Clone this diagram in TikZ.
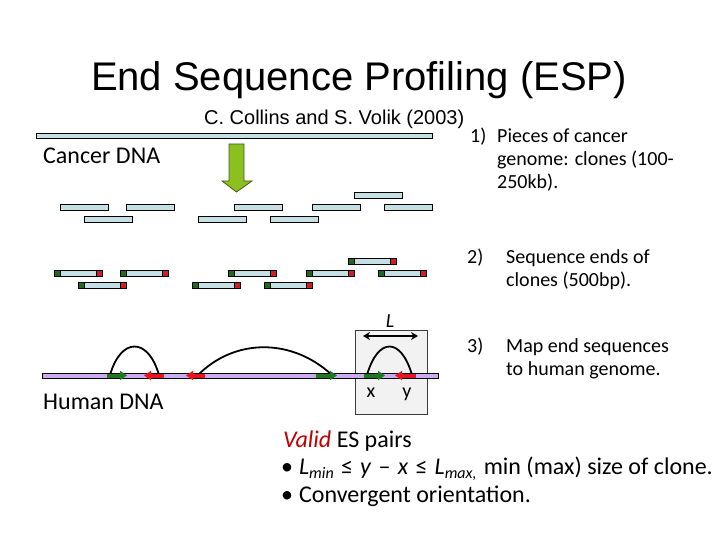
\documentclass[tikz,border=0pt]{standalone}
\usepackage{fontspec}
\setmainfont{Carlito}
\newfontfamily\arialf{Liberation Sans}
\usetikzlibrary{arrows.meta}
\definecolor{clonefill}{RGB}{196,224,228}
\definecolor{endgreen}{RGB}{26,110,26}
\definecolor{endred}{RGB}{224,24,30}
\definecolor{arrgreen}{RGB}{30,120,30}
\definecolor{arrred}{RGB}{232,20,30}
\definecolor{humanbar}{RGB}{204,170,240}
\definecolor{boxfill}{RGB}{242,242,242}
\definecolor{bigarrow}{RGB}{140,192,30}
\definecolor{validred}{RGB}{192,0,0}
\newcommand\lowsub[1]{\raisebox{-0.4ex}{\fontsize{16}{16}\selectfont\itshape #1}}
\newcommand\wsp{\hspace{0.3em}}
\tikzset{
  txt/.style={anchor=base west, inner sep=0pt, font=\fontsize{20}{24}\selectfont},
  bigtxt/.style={anchor=base west, inner sep=0pt, font=\fontsize{24}{28}\selectfont},
  clonebox/.style={draw=black, line width=0.8pt, fill=clonefill},
  greenend/.style={draw=black, line width=0.8pt, fill=endgreen},
  redend/.style={draw=black, line width=0.8pt, fill=endred},
  garrow/.style={line width=4pt, arrgreen, -{Triangle[length=7pt,width=9pt]}},
  rarrow/.style={line width=4pt, arrred, -{Triangle[length=7pt,width=9pt]}},
  arcline/.style={line width=1.8pt, black},
}
\begin{document}
\begin{tikzpicture}[x=1pt,y=-1pt]
\useasboundingbox (0,0) rectangle (720,540);
% titles
\node[anchor=base, inner sep=0pt, font=\arialf\fontsize{40}{48}\selectfont] (title) at (359,91) {End Sequence Profiling (ESP)};
\node[anchor=base west, inner sep=0pt, font=\arialf\fontsize{20}{24}\selectfont] (sub) at (204,125) {C. Collins and S. Volik (2003)};
% cancer DNA
\draw[clonebox] (36,133) rectangle (432,138);
\node[bigtxt] (cancer) at (43,164) {Cancer DNA};
\draw[draw={rgb,255:red,70;green,90;blue,30}, line width=0.8pt, fill=bigarrow]
  (229,144) -- (244,144) -- (244,181) -- (252,181) -- (236.5,192) -- (222,181) -- (229,181) -- cycle;
% clones
\foreach \x/\y in {354/192, 60/204, 126/204, 234/204, 312/204, 384/204, 84/216, 198/216, 270/216}
  \draw[clonebox] (\x,\y) rectangle ++(48,6);
% clones with sequenced ends
\foreach \x/\y in {348/258, 54/270, 120/270, 228/270, 306/270, 378/270, 78/282, 192/282, 264/282}{
  \draw[clonebox] (\x,\y) rectangle ++(48,6);
  \draw[greenend] (\x,\y) rectangle ++(6,6);
  \draw[redend] (\x+42,\y) rectangle ++(6,6);
}
% box
\draw[draw={rgb,255:red,60;green,60;blue,60}, line width=0.8pt, fill=boxfill] (355,330) rectangle (427,414);
\draw[line width=2.4pt, {Stealth[length=7pt,width=8pt]}-{Stealth[length=7pt,width=8pt]}] (363,336) -- (418,336);
\node[anchor=base, inner sep=0pt, font=\fontsize{20}{24}\selectfont\itshape] (L) at (390,327) {L};
% human DNA
\draw[draw=black, line width=0.8pt, fill=humanbar] (42,373) rectangle (438,378);
\node[bigtxt] (human) at (43,409) {Human DNA};
% end sequence arrows
\coordinate (g1a) at (107,375.5); \coordinate (g1b) at (127,375.5);
\coordinate (r1a) at (164,375.5); \coordinate (r1b) at (144,375.5);
\coordinate (r2a) at (205,375.5); \coordinate (r2b) at (186,375.5);
\coordinate (g2a) at (316,375.5); \coordinate (g2b) at (337,375.5);
\coordinate (g3a) at (364,375.5); \coordinate (g3b) at (385,375.5);
\coordinate (r3a) at (416,375.5); \coordinate (r3b) at (395,375.5);
\draw[arcline] (110,375) .. controls (121,337) and (148,337) .. (159,375);
\draw[arcline] (198,375) .. controls (235,338) and (292,338) .. (332,375);
\draw[arcline] (367,375) .. controls (378,337) and (401,337) .. (412,375);
\draw[garrow] (g1a) -- (g1b);
\draw[rarrow] (r1a) -- (r1b);
\draw[rarrow] (r2a) -- (r2b);
\draw[garrow] (g2a) -- (g2b);
\draw[garrow] (g3a) -- (g3b);
\draw[rarrow] (r3a) -- (r3b);
\node[anchor=base, inner sep=0pt, font=\fontsize{20}{24}\selectfont] (xl) at (371,397) {x};
\node[anchor=base, inner sep=0pt, font=\fontsize{20}{24}\selectfont] (yl) at (407,397) {y};
% right-hand steps
\node[txt] (n1) at (470,143) {1)};
\node[txt] (t1a) at (497,143) {Pieces of cancer};
\node[txt] (t1b) at (497,166) {genome: clones (100-};
\node[txt] (t1c) at (497,189) {250kb).};
\node[txt] (n2) at (467,263) {2)};
\node[txt] (t2a) at (506,263) {Sequence ends of};
\node[txt] (t2b) at (506,286) {clones (500bp).};
\node[txt] (n3) at (467,352) {3)};
\node[txt] (t3a) at (506,352) {Map end sequences};
\node[txt] (t3b) at (506,375) {to human genome.};
% bottom text
\node[bigtxt] (v1) at (283,447) {\textcolor{validred}{\itshape Valid} ES pairs};
\node[bigtxt] (v2) at (281,474) {•\hspace{6pt}\textit{L}\lowsub{min}\wsp≤\wsp\textit{y}\wsp–\wsp\textit{x}\wsp≤\wsp\textit{L}\lowsub{max,}\wsp min (max) size of clone.};
\node[bigtxt] (v3) at (281,502) {•\hspace{6pt}Convergent orientation.};
\end{tikzpicture}
\end{document}
